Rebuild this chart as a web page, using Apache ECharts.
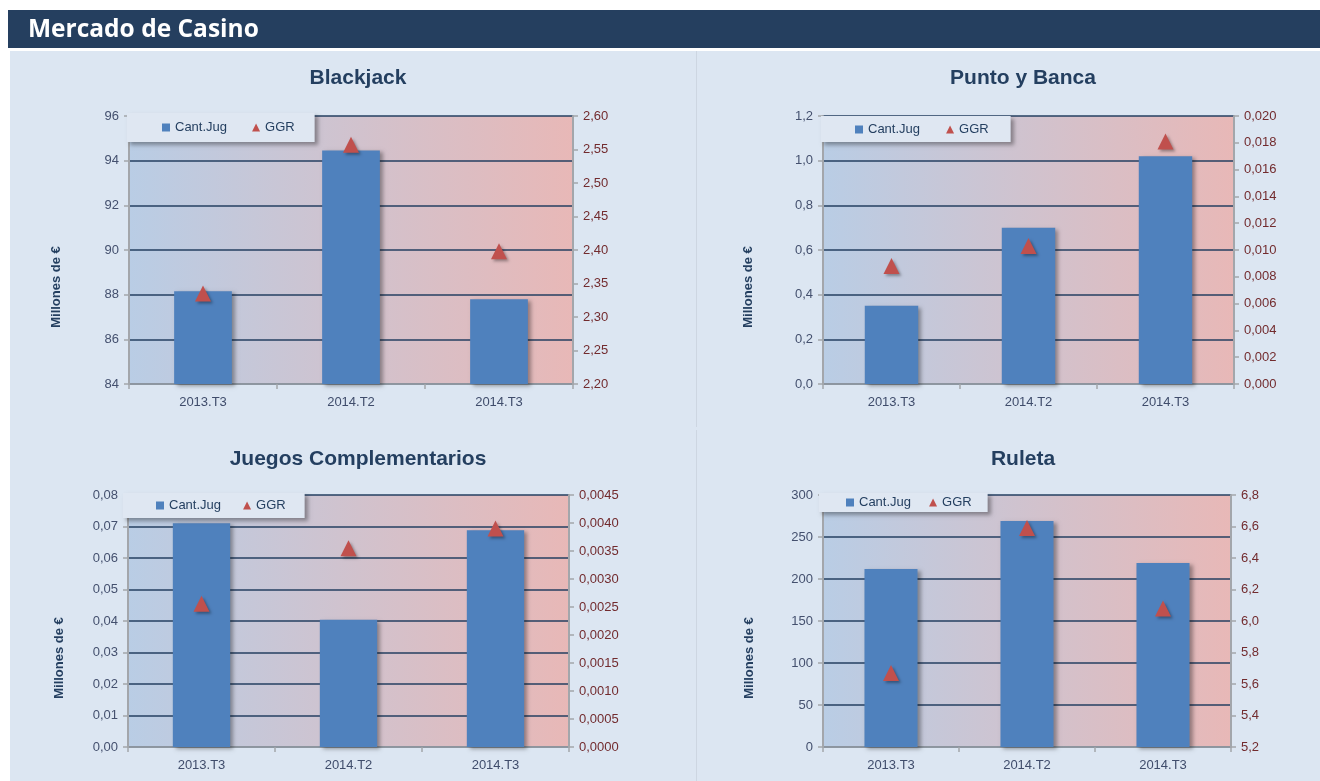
<!DOCTYPE html>
<html>
<head>
<meta charset="utf-8">
<script src="https://cdn.jsdelivr.net/npm/echarts@6/dist/echarts.min.js"></script>
<style>
html, body { margin: 0; padding: 0; background: #fff; }
#main { width: 1320px; height: 781px; }
</style>
</head>
<body>
<div id="main"></div>
<script>
var categories = ['2013.T3', '2014.T2', '2014.T3'];
var titles = ['Blackjack', 'Punto y Banca', 'Juegos Complementarios', 'Ruleta'];

var blackjackCant = [88.15, 94.46, 87.8];
var blackjackGGR = [2.335, 2.557, 2.398];
var puntoCant = [0.35, 0.70, 1.02];
var puntoGGR = [0.0088, 0.0103, 0.0181];
var juegosCant = [0.071, 0.0404, 0.0688];
var juegosGGR = [0.00256, 0.00355, 0.0039];
var ruletaCant = [212, 269, 219];
var ruletaGGR = [5.67, 6.59, 6.08];

var cantData = [blackjackCant, puntoCant, juegosCant, ruletaCant];
var ggrData = [blackjackGGR, puntoGGR, juegosGGR, ruletaGGR];

var narrow = "'Liberation Sans Narrow', 'Arial Narrow', 'Liberation Sans', sans-serif";
var navy = '#243f60';
var gray = '#a3a6ab';

function fmt(d) {
    return function (v) { return v.toFixed(d).replace('.', ','); };
}

// per chart layout
var panels = [
    { grid: { left: 129, top: 116, width: 444, height: 268 }, tx: 353, ty: 63,
      legend: { left: 127, top: 113, padding: [8, 20, 8, 35], itemGap: 25 },
      left: { min: 84, max: 96, interval: 2, dec: 0 }, right: { min: 2.2, max: 2.6, interval: 0.05, dec: 2 }, nameGap: 66 },
    { grid: { left: 823, top: 116, width: 411, height: 268 }, tx: 1018, ty: 63,
      legend: { left: 821, top: 116, padding: [7, 22, 6, 34], itemGap: 26 },
      left: { min: 0, max: 1.2, interval: 0.2, dec: 1 }, right: { min: 0, max: 0.02, interval: 0.002, dec: 3 }, nameGap: 68 },
    { grid: { left: 128, top: 495, width: 441, height: 252 }, tx: 353, ty: 444,
      legend: { left: 123, top: 493, padding: [6, 19, 6, 33], itemGap: 22 },
      left: { min: 0, max: 0.08, interval: 0.01, dec: 2 }, right: { min: 0, max: 0.0045, interval: 0.0005, dec: 4 }, nameGap: 62 },
    { grid: { left: 823, top: 495, width: 408, height: 252 }, tx: 1018, ty: 444,
      legend: { left: 819, top: 493, padding: [3, 16, 3, 27], itemGap: 18 },
      left: { min: 0, max: 300, interval: 50, dec: 0 }, right: { min: 5.2, max: 6.8, interval: 0.2, dec: 1 }, nameGap: 67 }
];

var option = {
    backgroundColor: '#dce6f2',
    animation: false,
    title: [],
    legend: [],
    grid: [],
    xAxis: [],
    yAxis: [],
    series: [],
    graphic: [
        { type: 'rect', shape: { x: 0, y: 0, width: 1320, height: 51 }, style: { fill: '#fff' } },
        { type: 'rect', shape: { x: 0, y: 0, width: 10, height: 781 }, style: { fill: '#fff' } },
        { type: 'rect', shape: { x: 8, y: 10, width: 1312, height: 38 }, style: { fill: '#253f5f' } },
        { type: 'text', x: 28, y: 30, style: { text: 'Mercado de Casino', fill: '#fff',
            font: "bold 24.5px 'Open Sans', 'Liberation Sans', sans-serif", verticalAlign: 'middle' } },
        { type: 'rect', shape: { x: 696, y: 51, width: 1, height: 376 }, style: { fill: '#cdd6e2' } },
        { type: 'rect', shape: { x: 696, y: 430, width: 1, height: 351 }, style: { fill: '#cdd6e2' } }
    ]
};

panels.forEach(function (p, i) {
    option.title.push({
        text: titles[i], left: p.tx, top: p.ty, textAlign: 'center',
        textStyle: { color: navy, fontSize: 21, fontWeight: 'bold', fontFamily: narrow }
    });
    option.legend.push({
        left: p.legend.left, top: p.legend.top, padding: p.legend.padding, itemGap: p.legend.itemGap,
        orient: 'horizontal', itemWidth: 8, itemHeight: 8,
        backgroundColor: '#dfe7f2',
        shadowColor: 'rgba(0,0,0,0.35)', shadowBlur: 4, shadowOffsetX: 3, shadowOffsetY: 3,
        textStyle: { color: navy, fontSize: 13, fontFamily: narrow },
        data: [{ name: 'Cant.Jug', icon: 'rect' }, { name: 'GGR', icon: 'triangle' }],
        selectedMode: false
    });
    option.grid.push({
        left: p.grid.left, top: p.grid.top, width: p.grid.width, height: p.grid.height,
        show: true, borderWidth: 0,
        backgroundColor: {
            type: 'linear', x: 0, y: 0, x2: 1, y2: 0,
            colorStops: [{ offset: 0, color: '#b9cde5' }, { offset: 1, color: '#e8b8b7' }]
        }
    });
    option.xAxis.push({
        type: 'category', gridIndex: i, data: categories,
        axisLine: { lineStyle: { color: gray, width: 1.5 } },
        axisTick: { show: true, length: 5, lineStyle: { color: gray, width: 1.5 } },
        axisLabel: { color: '#3f4c6b', fontSize: 13, margin: 12, fontFamily: narrow }
    });
    option.yAxis.push({
        type: 'value', gridIndex: i, position: 'left',
        min: p.left.min, max: p.left.max, interval: p.left.interval,
        axisLine: { show: true, lineStyle: { color: gray, width: 2 } },
        axisTick: { show: true, length: 5, lineStyle: { color: gray, width: 1.5 } },
        splitLine: { show: true, lineStyle: { color: navy, width: 1.5 } },
        axisLabel: { color: '#44506e', fontSize: 13, margin: 10, fontFamily: narrow, formatter: fmt(p.left.dec) },
        name: 'Millones de €', nameLocation: 'middle', nameGap: p.nameGap,
        nameTextStyle: { color: navy, fontSize: 13, fontWeight: 'bold',
            fontFamily: "'Liberation Sans', Arial, sans-serif", padding: [0, 74, 0, 0] }
    });
    option.yAxis.push({
        type: 'value', gridIndex: i, position: 'right',
        min: p.right.min, max: p.right.max, interval: p.right.interval,
        axisLine: { show: true, lineStyle: { color: gray, width: 2 } },
        axisTick: { show: true, length: 5, lineStyle: { color: gray, width: 1.5 } },
        splitLine: { show: false },
        axisLabel: { color: '#722b2e', fontSize: 13, margin: 10, fontFamily: narrow, formatter: fmt(p.right.dec) }
    });
    option.series.push({
        name: 'Cant.Jug', type: 'bar', xAxisIndex: i, yAxisIndex: 2 * i,
        barWidth: '39%', data: cantData[i],
        itemStyle: { color: '#4f81bd', shadowColor: 'rgba(0,0,0,0.35)', shadowBlur: 4, shadowOffsetX: 3, shadowOffsetY: 2 }
    });
    option.series.push({
        name: 'GGR', type: 'scatter', xAxisIndex: i, yAxisIndex: 2 * i + 1,
        symbol: 'triangle', symbolSize: [16, 16], data: ggrData[i], z: 5,
        itemStyle: { color: '#c0504d', opacity: 1, shadowColor: 'rgba(0,0,0,0.35)', shadowBlur: 3, shadowOffsetX: 2, shadowOffsetY: 2 }
    });
});

var myChart = echarts.init(document.getElementById('main'));
myChart.setOption(option);
</script>
</body>
</html>
